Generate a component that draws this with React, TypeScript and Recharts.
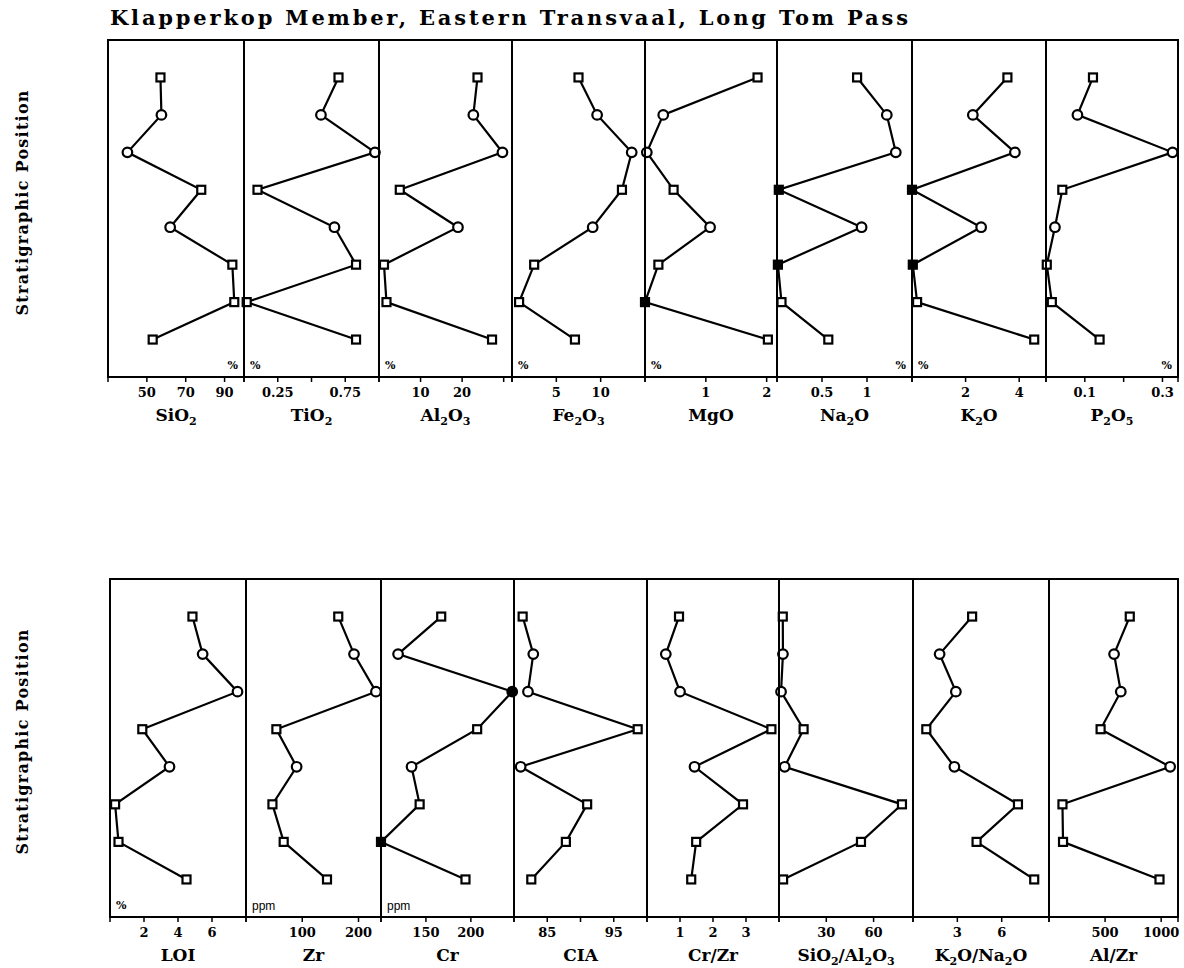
import React from 'react';
import { ScatterChart, Scatter, XAxis, YAxis } from 'recharts';

// sample order, top of section first
const markers = ['square', 'circle', 'circle', 'square', 'circle', 'square', 'square', 'square'];
const positions = [8, 7, 6, 5, 4, 3, 2, 1];

// major elements (%)
const sio2 = [57, 57.5, 40, 78, 62, 94, 95, 53];
const tio2 = [0.7, 0.57, 0.97, 0.1, 0.67, 0.83, 0.02, 0.83];
const al2o3 = [23.7, 22.7, 29.7, 5.0, 19.0, 1.2, 1.8, 27.2];
const fe2o3 = [7.5, 9.6, 13.5, 12.4, 9.1, 2.5, 0.8, 7.1];
const mgo = [1.85, 0.3, 0.03, 0.47, 1.07, 0.22, 0.0, 2.02];
const na2o = [0.89, 1.22, 1.32, 0.02, 0.94, 0.01, 0.05, 0.57];
const k2o = [3.56, 2.27, 3.84, 0.0, 2.58, 0.03, 0.19, 4.56];
const p2o5 = [0.121, 0.081, 0.326, 0.042, 0.023, 0.002, 0.015, 0.138];

// LOI, trace elements and ratios
const loi = [4.85, 5.45, 7.5, 1.9, 3.5, 0.3, 0.5, 4.5];
const zr = [164, 192, 231, 54, 90, 47, 67, 144];
const cr = [167, 119, 246, 207, 134, 143, 100, 194];
const cia = [81.3, 82.9, 82.1, 98.6, 81.0, 91.0, 87.8, 82.6];
const crZr = [0.97, 0.57, 1.0, 3.77, 1.44, 2.91, 1.49, 1.34];
const sio2Al2o3 = [2.4, 2.5, 1.3, 15.6, 3.6, 78, 52, 2.6];
const k2oNa2o = [4.0, 1.8, 2.9, 0.9, 2.8, 7.1, 4.3, 8.2];
const alZr = [720, 580, 640, 460, 1080, 120, 125, 985];

const serif = "'DejaVu Serif', serif";

type Panel = {
  name: string;
  values: number[];
  domain: [number, number];
  ticks: number[];
  labels: number[];
  unit?: string;
  unitRight?: boolean;
  filled?: number[];
};

const topPanels: Panel[] = [
  { name: 'SiO_2', values: sio2, domain: [30, 100], ticks: [30, 50, 70, 90, 100], labels: [50, 70, 90], unit: '%', unitRight: true },
  { name: 'TiO_2', values: tio2, domain: [0, 1], ticks: [0, 0.25, 0.5, 0.75, 1], labels: [0.25, 0.75], unit: '%' },
  { name: 'Al_2O_3', values: al2o3, domain: [0, 32], ticks: [0, 10, 20, 30, 32], labels: [10, 20], unit: '%' },
  { name: 'Fe_2O_3', values: fe2o3, domain: [0, 15], ticks: [0, 5, 10, 15], labels: [5, 10], unit: '%' },
  { name: 'MgO', values: mgo, domain: [0, 2.17], ticks: [0, 1, 2, 2.17], labels: [1, 2], unit: '%', filled: [6] },
  { name: 'Na_2O', values: na2o, domain: [0, 1.5], ticks: [0, 0.5, 1, 1.5], labels: [0.5, 1], unit: '%', unitRight: true, filled: [3, 5] },
  { name: 'K_2O', values: k2o, domain: [0, 5], ticks: [0, 2, 4, 5], labels: [2, 4], unit: '%', filled: [3, 5] },
  { name: 'P_2O_5', values: p2o5, domain: [0, 0.34], ticks: [0, 0.1, 0.2, 0.3, 0.34], labels: [0.1, 0.3], unit: '%', unitRight: true },
];

const bottomPanels: Panel[] = [
  { name: 'LOI', values: loi, domain: [0, 8], ticks: [0, 2, 4, 6, 8], labels: [2, 4, 6], unit: '%' },
  { name: 'Zr', values: zr, domain: [0, 240], ticks: [0, 100, 200, 240], labels: [100, 200], unit: 'ppm' },
  { name: 'Cr', values: cr, domain: [100, 248], ticks: [100, 150, 200, 248], labels: [150, 200], unit: 'ppm', filled: [2, 6] },
  { name: 'CIA', values: cia, domain: [80, 100], ticks: [80, 85, 90, 95, 100], labels: [85, 95] },
  { name: 'Cr/Zr', values: crZr, domain: [0, 4], ticks: [0, 1, 2, 3, 4], labels: [1, 2, 3] },
  { name: 'SiO_2/Al_2O_3', values: sio2Al2o3, domain: [0, 85], ticks: [0, 30, 60, 85], labels: [30, 60] },
  { name: 'K_2O/Na_2O', values: k2oNa2o, domain: [0, 9.2], ticks: [0, 3, 6, 9.2], labels: [3, 6] },
  { name: 'Al/Zr', values: alZr, domain: [0, 1150], ticks: [0, 500, 1000, 1150], labels: [500, 1000] },
];

const topEdges = [108, 244, 379, 512, 645, 777, 912, 1046, 1178];
const bottomEdges = [110, 246, 381, 514, 647, 779, 913, 1049, 1178];

const Marker = (props: any) => {
  const { cx, cy } = props;
  const d = props.payload ?? props;
  if (cx == null || cy == null) return null;
  const fill = d.filled ? '#000' : '#fff';
  if (d.kind === 'circle') {
    return <circle cx={cx} cy={cy} r={4.8} fill={fill} stroke="#000" strokeWidth={2.2} />;
  }
  return <rect x={cx - 4} y={cy - 4} width={8} height={8} fill={fill} stroke="#000" strokeWidth={2.2} />;
};

const nameParts = (name: string) => {
  const parts = name.split(/(_\d)/).filter((s) => s !== '');
  const out: React.ReactNode[] = [];
  let sub = false;
  parts.forEach((s, i) => {
    if (s.startsWith('_')) {
      out.push(
        <tspan key={i} fontSize={11} dy={4}>
          {s.slice(1)}
        </tspan>
      );
      sub = true;
    } else {
      out.push(
        <tspan key={i} dy={sub ? -4 : 0}>
          {s}
        </tspan>
      );
      sub = false;
    }
  });
  return out;
};

const PanelChart: React.FC<{ p: Panel; x0: number; x1: number; top: number; plotH: number }> = ({ p, x0, x1, top, plotH }) => {
  const data = p.values.map((v, i) => ({
    v,
    pos: positions[i],
    kind: markers[i],
    filled: (p.filled ?? []).includes(i),
  }));
  const w = x1 - x0;
  return (
    <div style={{ position: 'absolute', left: x0 - 8, top: top - 8 }}>
      <ScatterChart width={w + 16} height={plotH + 58} margin={{ top: 8, right: 8, left: 8, bottom: 0 }}>
        <XAxis
          dataKey="v"
          type="number"
          domain={p.domain}
          ticks={p.ticks}
          interval={0}
          axisLine={false}
          tickLine={{ stroke: '#000', strokeWidth: 1.5 }}
          tickSize={5}
          tickMargin={6}
          height={50}
          tick={{ fontSize: 13, fontWeight: 700, fill: '#000', fontFamily: serif }}
          tickFormatter={(t: number) => (p.labels.includes(t) ? String(t) : '')}
          label={(lp: any) => {
            const vb = lp.viewBox ?? {};
            return (
              <text
                x={vb.x + vb.width / 2}
                y={vb.y + 44}
                textAnchor="middle"
                fontFamily={serif}
                fontWeight={700}
                fontSize={17}
                fill="#000"
              >
                {nameParts(p.name)}
              </text>
            );
          }}
        />
        <YAxis dataKey="pos" type="number" domain={[0, 9]} hide />
        <Scatter
          data={data}
          line={{ stroke: '#000', strokeWidth: 2.2 }}
          shape={Marker}
          isAnimationActive={false}
        />
      </ScatterChart>
      <div
        style={{
          position: 'absolute',
          left: 7,
          top: 7,
          width: w + 2,
          height: plotH + 2,
          border: '2px solid #000',
          boxSizing: 'border-box',
          pointerEvents: 'none',
        }}
      />
      {p.unit && (
        <div
          style={{
            position: 'absolute',
            top: plotH - 9,
            left: p.unitRight ? undefined : 14,
            right: p.unitRight ? 14 : undefined,
            fontFamily: p.unit === 'ppm' ? "'Liberation Sans', sans-serif" : serif,
            fontWeight: p.unit === 'ppm' ? 400 : 700,
            fontSize: p.unit === 'ppm' ? 12 : 11,
            lineHeight: '12px',
          }}
        >
          {p.unit}
        </div>
      )}
    </div>
  );
};

export default function App() {
  const topY = 40;
  const topH = 337;
  const botY = 579;
  const botH = 338;
  return (
    <div style={{ position: 'absolute', left: 0, top: 0, width: 1184, height: 968, background: '#fff' }}>
      <svg width={1184} height={968} style={{ position: 'absolute', left: 0, top: 0 }}>
        <text x={110} y={25} fontFamily={serif} fontWeight={700} fontSize={21} textLength={798} lengthAdjust="spacing">
          Klapperkop Member, Eastern Transvaal, Long Tom Pass
        </text>
        <text
          transform="translate(22,203) rotate(-90)"
          textAnchor="middle"
          dominantBaseline="central"
          fontFamily={serif}
          fontWeight={700}
          fontSize={16}
          textLength={225}
          lengthAdjust="spacing"
        >
          Stratigraphic Position
        </text>
        <text
          transform="translate(22,742) rotate(-90)"
          textAnchor="middle"
          dominantBaseline="central"
          fontFamily={serif}
          fontWeight={700}
          fontSize={16}
          textLength={225}
          lengthAdjust="spacing"
        >
          Stratigraphic Position
        </text>
      </svg>
      {topPanels.map((p, i) => (
        <PanelChart key={p.name} p={p} x0={topEdges[i]} x1={topEdges[i + 1]} top={topY} plotH={topH} />
      ))}
      {bottomPanels.map((p, i) => (
        <PanelChart key={p.name} p={p} x0={bottomEdges[i]} x1={bottomEdges[i + 1]} top={botY} plotH={botH} />
      ))}
    </div>
  );
}
